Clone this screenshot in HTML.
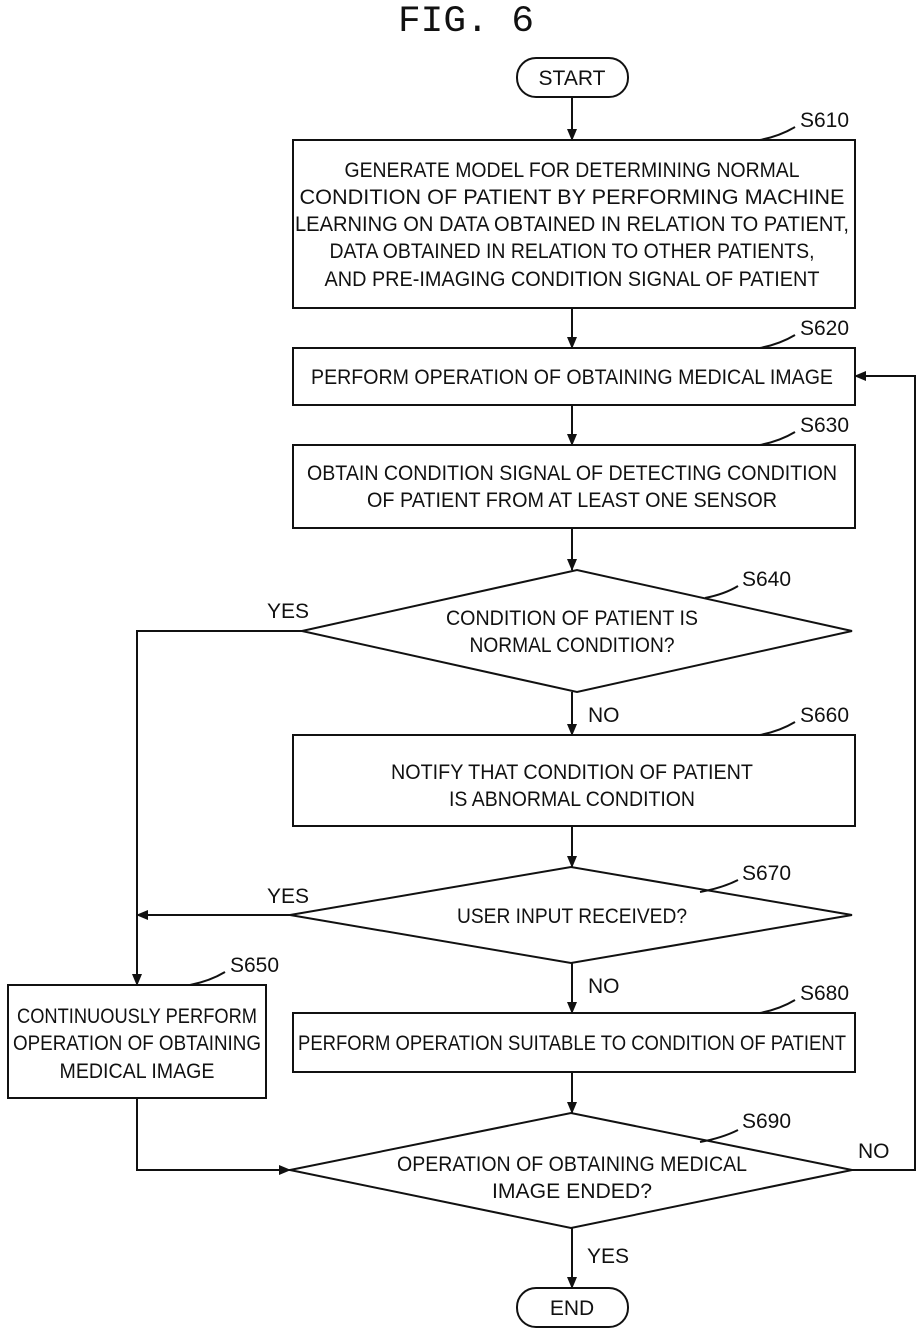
<!DOCTYPE html>
<html><head><meta charset="utf-8"><style>
html,body{margin:0;padding:0;background:#fff}
svg{display:block}
text{font-family:"Liberation Sans",sans-serif;font-size:21px;fill:#111}
.t{font-family:"Liberation Mono",monospace;font-size:37px}
</style></head><body>
<svg width="921" height="1335" viewBox="0 0 921 1335">
<defs><marker id="a" markerWidth="12" markerHeight="10" refX="11" refY="5" orient="auto" markerUnits="userSpaceOnUse"><path d="M0,0 L12,5 L0,10 Z" fill="#111"/></marker></defs>
<g fill="none" stroke="#111" stroke-width="2">
<rect x="517" y="58" width="111" height="39" rx="19"/>
<rect x="517" y="1288" width="111" height="39" rx="19"/>
<rect x="293" y="140" width="562" height="168"/>
<rect x="293" y="348" width="562" height="57"/>
<rect x="293" y="445" width="562" height="83"/>
<rect x="293" y="735" width="562" height="91"/>
<rect x="293" y="1013" width="562" height="59"/>
<rect x="8" y="985" width="258" height="113"/>
<polygon points="302,631 577,570 852,631 577,692"/>
<polygon points="290,915 571,867 852,915 571,963"/>
<polygon points="290,1170 571,1113 852,1170 571,1228"/>
<line x1="572" y1="97" x2="572" y2="140" marker-end="url(#a)"/>
<line x1="572" y1="308" x2="572" y2="348" marker-end="url(#a)"/>
<line x1="572" y1="405" x2="572" y2="445" marker-end="url(#a)"/>
<line x1="572" y1="528" x2="572" y2="570" marker-end="url(#a)"/>
<line x1="572" y1="692" x2="572" y2="735" marker-end="url(#a)"/>
<line x1="572" y1="826" x2="572" y2="867" marker-end="url(#a)"/>
<line x1="572" y1="963" x2="572" y2="1013" marker-end="url(#a)"/>
<line x1="572" y1="1072" x2="572" y2="1113" marker-end="url(#a)"/>
<line x1="572" y1="1228" x2="572" y2="1288" marker-end="url(#a)"/>
<polyline points="302,631 137,631 137,985" marker-end="url(#a)"/>
<line x1="290" y1="915" x2="137" y2="915" marker-end="url(#a)"/>
<polyline points="137,1098 137,1170 290,1170" marker-end="url(#a)"/>
<polyline points="852,1170 915,1170 915,376 855,376" marker-end="url(#a)"/>
<path d="M795,127 Q780,136 760,140"/>
<path d="M795,335 Q780,344 760,348"/>
<path d="M795,432 Q780,441 760,445"/>
<path d="M738,586 Q725,594 705,598"/>
<path d="M795,722 Q780,731 760,735"/>
<path d="M738,880 Q722,888 700,892"/>
<path d="M225,972 Q210,981 190,985"/>
<path d="M795,1000 Q780,1009 760,1013"/>
<path d="M738,1130 Q722,1138 700,1142"/>
</g>
<text class="t" x="466" y="31" text-anchor="middle" textLength="136" lengthAdjust="spacingAndGlyphs">FIG. 6</text>
<g text-anchor="middle">
<text x="572" y="85">START</text>
<text x="572" y="1315">END</text>
<text x="572" y="177" textLength="455" lengthAdjust="spacingAndGlyphs">GENERATE MODEL FOR DETERMINING NORMAL</text>
<text x="572" y="204" textLength="545" lengthAdjust="spacingAndGlyphs">CONDITION OF PATIENT BY PERFORMING MACHINE</text>
<text x="572" y="231" textLength="554" lengthAdjust="spacingAndGlyphs">LEARNING ON DATA OBTAINED IN RELATION TO PATIENT,</text>
<text x="572" y="258" textLength="485" lengthAdjust="spacingAndGlyphs">DATA OBTAINED IN RELATION TO OTHER PATIENTS,</text>
<text x="572" y="286" textLength="495" lengthAdjust="spacingAndGlyphs">AND PRE-IMAGING CONDITION SIGNAL OF PATIENT</text>
<text x="572" y="384" textLength="522" lengthAdjust="spacingAndGlyphs">PERFORM OPERATION OF OBTAINING MEDICAL IMAGE</text>
<text x="572" y="480" textLength="530" lengthAdjust="spacingAndGlyphs">OBTAIN CONDITION SIGNAL OF DETECTING CONDITION</text>
<text x="572" y="507" textLength="410" lengthAdjust="spacingAndGlyphs">OF PATIENT FROM AT LEAST ONE SENSOR</text>
<text x="572" y="625" textLength="252" lengthAdjust="spacingAndGlyphs">CONDITION OF PATIENT IS</text>
<text x="572" y="652" textLength="205" lengthAdjust="spacingAndGlyphs">NORMAL CONDITION?</text>
<text x="572" y="779" textLength="362" lengthAdjust="spacingAndGlyphs">NOTIFY THAT CONDITION OF PATIENT</text>
<text x="572" y="806" textLength="246" lengthAdjust="spacingAndGlyphs">IS ABNORMAL CONDITION</text>
<text x="572" y="923" textLength="230" lengthAdjust="spacingAndGlyphs">USER INPUT RECEIVED?</text>
<text x="572" y="1050" textLength="548" lengthAdjust="spacingAndGlyphs">PERFORM OPERATION SUITABLE TO CONDITION OF PATIENT</text>
<text x="572" y="1171" textLength="350" lengthAdjust="spacingAndGlyphs">OPERATION OF OBTAINING MEDICAL</text>
<text x="572" y="1198" textLength="160" lengthAdjust="spacingAndGlyphs">IMAGE ENDED?</text>
<text x="137" y="1023" textLength="240" lengthAdjust="spacingAndGlyphs">CONTINUOUSLY PERFORM</text>
<text x="137" y="1050" textLength="248" lengthAdjust="spacingAndGlyphs">OPERATION OF OBTAINING</text>
<text x="137" y="1078" textLength="155" lengthAdjust="spacingAndGlyphs">MEDICAL IMAGE</text>
</g>
<text x="800" y="127">S610</text>
<text x="800" y="335">S620</text>
<text x="800" y="432">S630</text>
<text x="742" y="586">S640</text>
<text x="800" y="722">S660</text>
<text x="742" y="880">S670</text>
<text x="230" y="972">S650</text>
<text x="800" y="1000">S680</text>
<text x="742" y="1128">S690</text>
<text x="267" y="618">YES</text>
<text x="267" y="903">YES</text>
<text x="588" y="722">NO</text>
<text x="588" y="993">NO</text>
<text x="858" y="1158">NO</text>
<text x="587" y="1263">YES</text>
</svg>
</body></html>
